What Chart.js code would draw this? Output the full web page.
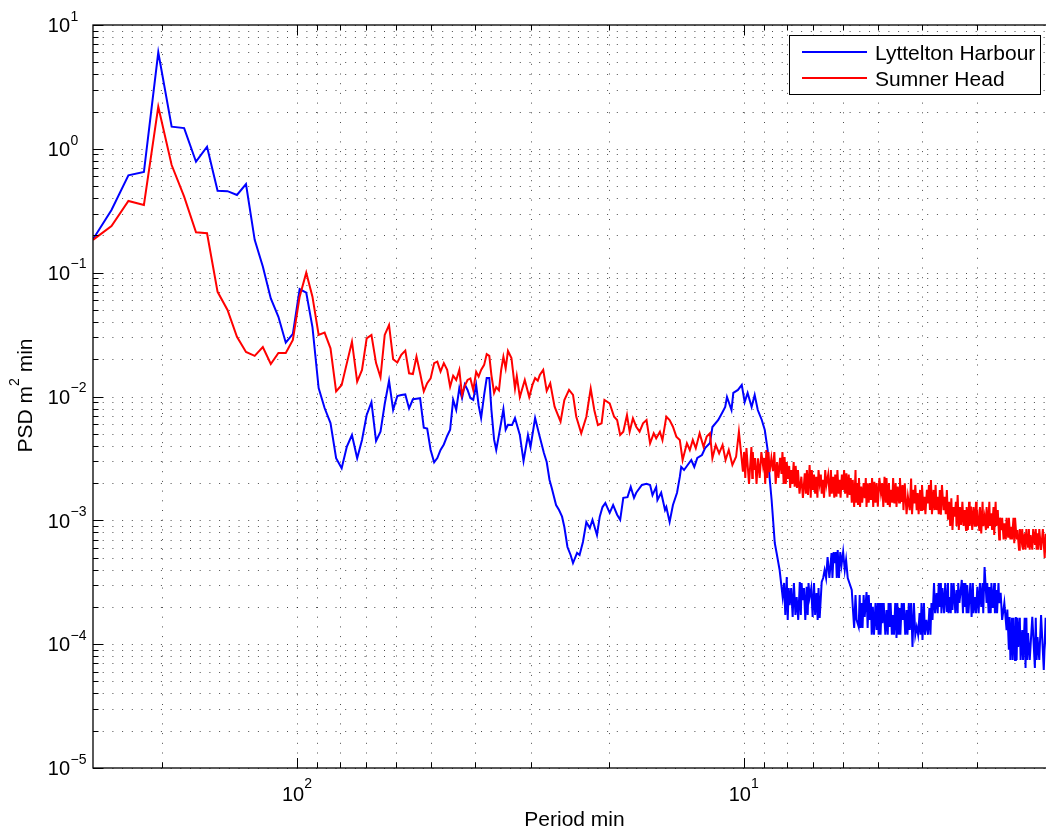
<!DOCTYPE html>
<html>
<head>
<meta charset="utf-8">
<title>PSD Lyttelton Harbour / Sumner Head</title>
<script src="https://cdn.jsdelivr.net/npm/chart.js@4.4.1/dist/chart.umd.min.js"></script>
<style>
  html, body { margin: 0; padding: 0; background: #fff; overflow: hidden; }
  #wrap { width: 1046px; height: 829px; overflow: hidden; }
</style>
</head>
<body>
<div id="wrap"><canvas id="psdChart" width="1066" height="829"></canvas></div>
<script>
// long periods (min), shared by both records
var lowPeriod = [
  286, 260, 238.3, 220, 204.3, 190.7, 178.8, 168.2, 158.9, 150.5,
  143, 136.2, 130, 124.3, 119.2, 114.4, 110, 105.9, 102.1, 98.6,
  95.3, 92.3, 89.4, 86.7, 84.1, 81.7, 79.4, 77.3, 75.3, 73.3,
  71.5, 69.8, 68.1, 66.5, 65, 63.6, 62.2, 60.9, 59.6, 58.4,
  57.2, 56.1, 55, 54, 53, 52, 51.1, 50.2, 49.3, 48.5,
  47.7, 46.9, 46.1, 45.4, 44.7, 44, 43.3, 42.7, 42.1, 41.5,
  40.9, 40.3, 39.7, 39.2, 38.7, 38.1, 37.6, 37.1, 36.7, 36.2,
  35.8, 35.3, 34.9, 34.5, 34.1, 33.7
];

var blueLowPsd = [
  0.186, 0.321, 0.611, 0.650, 6.02, 1.51, 1.47, 0.787, 1.04, 0.459,
  0.455, 0.424, 0.52, 0.184, 0.112, 0.062, 0.044, 0.0272, 0.032, 0.0738,
  0.069, 0.0364, 0.0117, 0.00807, 0.0061, 0.00318, 0.00263, 0.00394, 0.00489, 0.00317,
  0.00446, 0.00709, 0.009, 0.00437, 0.0052, 0.0087, 0.0134, 0.0078, 0.0101, 0.0103,
  0.0104, 0.008, 0.0095, 0.0096, 0.0097, 0.0056, 0.0055, 0.0037, 0.00294, 0.00318,
  0.0037, 0.0041, 0.0048, 0.0054, 0.0094, 0.0078, 0.0117, 0.0097, 0.0125, 0.0113,
  0.0097, 0.0094, 0.0124, 0.0085, 0.0067, 0.0103, 0.0141, 0.0141, 0.0078, 0.0045,
  0.0037, 0.0049, 0.0062, 0.0079, 0.0054, 0.0059
];

var redLowPsd = [
  0.184, 0.238, 0.379, 0.352, 2.19, 0.740, 0.411, 0.212, 0.208, 0.070,
  0.050, 0.0303, 0.0229, 0.0213, 0.0251, 0.0183, 0.0225, 0.0225, 0.0286, 0.064,
  0.10, 0.064, 0.0314, 0.0328, 0.0245, 0.011, 0.0124, 0.0186, 0.0277, 0.0132,
  0.0164, 0.0295, 0.0314, 0.0186, 0.0143, 0.0314, 0.0378, 0.020, 0.0188, 0.0217,
  0.0235, 0.0154, 0.0152, 0.021, 0.0154, 0.011, 0.0128, 0.014, 0.0186, 0.0191,
  0.0159, 0.0186, 0.0164, 0.012, 0.0147, 0.0136, 0.0164, 0.0103, 0.0122, 0.0136,
  0.014, 0.0113, 0.0158, 0.0145, 0.0164, 0.018, 0.022, 0.0213, 0.0149, 0.0107,
  0.0119, 0.0112, 0.0164, 0.0209, 0.0169, 0.0233
];

// Lyttelton Harbour, 33 to 8.3 min
var blueMidPeriod = [
  33.0, 32.5, 31.7, 31.1, 30.4, 30.0, 29.3, 28.6, 28.0, 27.6,
  27.2, 26.9, 26.3, 25.9, 25.5, 25.2, 24.8, 24.4, 24.1, 23.6,
  23.3, 22.9, 22.5, 22.1, 21.8, 21.3, 21.0, 20.7, 20.4, 19.95,
  19.6, 19.2, 18.9, 18.6, 18.2, 17.9, 17.6, 17.4, 16.9, 16.5,
  16.2, 16.0, 15.7, 15.6, 15.3, 15.0, 14.9, 14.65, 14.4, 14.1,
  13.9, 13.8, 13.6, 13.35, 13.1, 12.9, 12.7, 12.4, 12.2, 11.9,
  11.75, 11.4, 11.15, 11.0, 10.9, 10.65, 10.55, 10.3, 10.1, 9.95,
  9.80, 9.60, 9.45, 9.30, 9.11, 8.97, 8.84, 8.75, 8.66, 8.52,
  8.44, 8.31
];
var blueMidPsd = [
  0.00588, 0.0067, 0.00489, 0.00301, 0.00489, 0.00391, 0.0067, 0.00471, 0.0035, 0.00296,
  0.00212, 0.00183, 0.00133, 0.00121, 0.00107, 0.000883, 0.000609, 0.000525, 0.000452, 0.000545,
  0.000525, 0.000668, 0.000969, 0.000867, 0.00101, 0.000761, 0.00107, 0.00128, 0.00138, 0.00115,
  0.00133, 0.00111, 0.00101, 0.00152, 0.00154, 0.00186, 0.00152, 0.00167, 0.00193, 0.00197,
  0.00193, 0.0016, 0.00186, 0.00146, 0.00167, 0.00121, 0.00128, 0.00097, 0.00133, 0.00167,
  0.00224, 0.0027, 0.00255, 0.0028, 0.00307, 0.0027, 0.00319, 0.00337, 0.00384, 0.00421,
  0.00567, 0.00646, 0.0075, 0.00823, 0.0099, 0.00778, 0.0107, 0.0113, 0.0124, 0.00903,
  0.0107, 0.00823, 0.0103, 0.00778, 0.00646, 0.00536, 0.0037, 0.0022, 0.00146, 0.000656,
  0.000545, 0.000397
];

// Lyttelton Harbour, noisy short-period band
var blueNoisePeriod = [
  8.18, 8.12, 8.07, 8.01, 7.97, 7.93, 7.89, 7.83, 7.77, 7.72,
  7.66, 7.61, 7.55, 7.49, 7.45, 7.42, 7.38, 7.33, 7.28, 7.23,
  7.19, 7.16, 7.12, 7.06, 7.01, 6.96, 6.92, 6.87, 6.83, 6.80,
  6.76, 6.69, 6.64, 6.59, 6.54, 6.49, 6.43, 6.36, 6.33, 6.29,
  6.26, 6.22, 6.19, 6.16, 6.12, 6.08, 6.04, 5.99, 5.94, 5.90,
  5.85, 5.73, 5.70, 5.66, 5.62, 5.59, 5.53, 5.50, 5.48, 5.45,
  5.42, 5.39, 5.36, 5.31, 5.28, 5.25, 5.22, 5.19, 5.17, 5.14,
  5.11, 5.07, 5.04, 5.01, 4.99, 4.96, 4.94, 4.91, 4.89, 4.86,
  4.82, 4.79, 4.76, 4.74, 4.71, 4.69, 4.66, 4.64, 4.61, 4.58,
  4.55, 4.53, 4.50, 4.48, 4.46, 4.43, 4.41, 4.38, 4.35, 4.32,
  4.30, 4.27, 4.25, 4.22, 4.19, 4.16, 4.13, 4.10, 4.07, 4.04,
  4.02, 4.00, 3.98, 3.95, 3.93, 3.90, 3.87, 3.84, 3.82, 3.80,
  3.78, 3.75, 3.73, 3.70, 3.68, 3.66, 3.64, 3.62, 3.61, 3.59,
  3.56, 3.54, 3.51, 3.49, 3.48, 3.46, 3.44, 3.43, 3.41, 3.39,
  3.36, 3.34, 3.32, 3.31, 3.29, 3.25, 3.23, 3.22, 3.20, 3.19,
  3.17, 3.16, 3.14, 3.11, 3.09, 3.07, 3.06, 3.04, 3.02, 3.00,
  2.98, 2.96, 2.94, 2.92, 2.91, 2.89, 2.86, 2.85, 2.83, 2.82,
  2.80, 2.79, 2.77, 2.75, 2.74, 2.72, 2.71, 2.69, 2.68, 2.66,
  2.64, 2.61, 2.58, 2.57, 2.55, 2.54, 2.53, 2.51, 2.50, 2.49,
  2.47, 2.46, 2.45, 2.44, 2.43, 2.41, 2.40, 2.38, 2.37, 2.35,
  2.34, 2.33, 2.32, 2.31, 2.29, 2.26, 2.23, 2.22, 2.21, 2.20,
  2.18, 2.16, 2.13, 2.11, 2.09, 2.07, 2.0
];
var blueNoisePsd = [
  0.00024, 0.000312, 0.000172, 0.000349, 0.000157, 0.000284, 0.000207, 0.000284, 0.000166, 0.000312,
  0.000172, 0.00024, 0.000157, 0.000318, 0.000172, 0.000312, 0.000227, 0.000284, 0.000157, 0.00029,
  0.000172, 0.000312, 0.00024, 0.000284, 0.000166, 0.000312, 0.000172, 0.000259, 0.000157, 0.000284,
  0.000163, 0.000318, 0.000342, 0.000397, 0.000342, 0.000505, 0.000342, 0.000545, 0.000342, 0.000555,
  0.000452, 0.000555, 0.000342, 0.000576, 0.000342, 0.000555, 0.000436, 0.000555, 0.000397, 0.00048,
  0.000342, 0.000274, 0.0002, 0.000135, 0.000249, 0.000157, 0.000138, 0.000249, 0.000135, 0.000215,
  0.000135, 0.000249, 0.000166, 0.000264, 0.000135, 0.000249, 0.000157, 0.000215, 0.000119, 0.0002,
  0.000119, 0.000215, 0.00013, 0.000215, 0.000119, 0.000215, 0.000119, 0.000215, 0.000148, 0.000215,
  0.000119, 0.000189, 0.000119, 0.000215, 0.000138, 0.000215, 0.000119, 0.000172, 0.000119, 0.000215,
  0.000112, 0.000215, 0.000119, 0.000196, 0.000119, 0.000215, 0.000157, 0.000215, 0.000119, 0.000189,
  0.000119, 0.000215, 0.00013, 0.000215, 0.0000949, 0.000215, 0.000119, 0.000138, 0.000119, 0.000178,
  0.000119, 0.000215, 0.000108, 0.000215, 0.000119, 0.000157, 0.000119, 0.000196, 0.000119, 0.000215,
  0.000157, 0.000312, 0.000178, 0.000259, 0.000178, 0.000312, 0.0002, 0.000312, 0.000178, 0.000284,
  0.000178, 0.000312, 0.000182, 0.000312, 0.000178, 0.00024, 0.000178, 0.000312, 0.000189, 0.000312,
  0.000178, 0.000274, 0.000178, 0.000312, 0.000215, 0.00033, 0.000178, 0.000312, 0.0002, 0.000312,
  0.000178, 0.0003, 0.000178, 0.000312, 0.000166, 0.000312, 0.000178, 0.00024, 0.000178, 0.00029,
  0.000178, 0.000312, 0.0002, 0.000312, 0.000178, 0.00042, 0.000215, 0.000312, 0.000178, 0.00029,
  0.000178, 0.000312, 0.000196, 0.000312, 0.000178, 0.000274, 0.000178, 0.000312, 0.000215, 0.00026,
  0.000157, 0.000215, 0.00013, 0.00019, 0.00009, 0.000166, 0.0000745, 0.000163, 0.0000745, 0.000163,
  0.0000745, 0.000166, 0.0000745, 0.000163, 0.0000949, 0.000163, 0.0000745, 0.00013, 0.0000745, 0.000163,
  0.0000642, 0.000163, 0.0000745, 0.000123, 0.0000745, 0.000166, 0.0000642, 0.000163, 0.0000745, 0.000114,
  0.0000745, 0.000172, 0.0000619, 0.000163, 0.0000745, 0.000108, 0.0000745
];

// Sumner Head, 33 to 10.3 min
var redMidPeriod = [
  33.1, 32.5, 32.2, 31.7, 30.9, 30.2, 29.7, 29.3, 28.9, 28.6,
  28.1, 27.6, 27.1, 26.5, 25.7, 25.2, 24.6, 24.1, 23.7, 23.1,
  22.5, 22.0, 21.6, 21.2, 20.8, 20.5, 19.95, 19.5, 19.2, 18.9,
  18.6, 18.25, 18.0, 17.7, 17.4, 17.1, 16.8, 16.5, 16.2, 15.9,
  15.7, 15.4, 15.2, 14.9, 14.65, 14.4, 14.15, 13.9, 13.7, 13.4,
  13.2, 13.0, 12.8, 12.55, 12.3, 12.1, 11.9, 11.75, 11.55, 11.35,
  11.15, 10.98, 10.8, 10.6, 10.4, 10.25
];
var redMidPsd = [
  0.0204, 0.0116, 0.0146, 0.0099, 0.0136, 0.0099, 0.0124, 0.0141, 0.0134, 0.0149,
  0.0164, 0.0111, 0.0128, 0.00827, 0.00626, 0.00937, 0.0113, 0.0103, 0.00687, 0.00504,
  0.00687, 0.0116, 0.00778, 0.00588, 0.00608, 0.00937, 0.00881, 0.00687, 0.00646, 0.00489,
  0.0052, 0.00709, 0.0052, 0.00667, 0.0057, 0.0052, 0.00608, 0.00646, 0.00419, 0.00504,
  0.0046, 0.0052, 0.00445, 0.00687, 0.00646, 0.0057, 0.00474, 0.00445, 0.00307, 0.00419,
  0.0037, 0.00445, 0.00382, 0.00504, 0.00393, 0.00474, 0.00504, 0.00317, 0.00406, 0.00348,
  0.00406, 0.00307, 0.0037, 0.0028, 0.00326, 0.0052
];

// Sumner Head, noisy short-period band
var redNoisePeriod = [
  10.04, 9.98, 9.92, 9.86, 9.73, 9.61, 9.57, 9.54, 9.50, 9.43,
  9.36, 9.29, 9.21, 9.13, 9.05, 9.00, 8.95, 8.90, 8.85, 8.80,
  8.75, 8.67, 8.60, 8.54, 8.48, 8.42, 8.36, 8.29, 8.23, 8.19,
  8.14, 8.10, 8.05, 8.01, 7.96, 7.91, 7.87, 7.82, 7.78, 7.73,
  7.69, 7.65, 7.60, 7.56, 7.50, 7.43, 7.37, 7.30, 7.26, 7.22,
  7.18, 7.12, 7.08, 7.04, 7.00, 6.96, 6.92, 6.88, 6.84, 6.80,
  6.76, 6.72, 6.69, 6.65, 6.61, 6.57, 6.53, 6.47, 6.42, 6.38,
  6.35, 6.31, 6.27, 6.24, 6.20, 6.17, 6.13, 6.10, 6.07, 6.03,
  6.00, 5.96, 5.93, 5.89, 5.86, 5.82, 5.79, 5.76, 5.73, 5.70,
  5.66, 5.62, 5.60, 5.57, 5.55, 5.52, 5.49, 5.46, 5.43, 5.39,
  5.36, 5.33, 5.31, 5.28, 5.25, 5.22, 5.19, 5.16, 5.13, 5.10,
  5.07, 5.04, 5.01, 4.97, 4.93, 4.90, 4.87, 4.84, 4.81, 4.79,
  4.76, 4.73, 4.71, 4.68, 4.65, 4.63, 4.60, 4.57, 4.55, 4.52,
  4.49, 4.47, 4.44, 4.41, 4.39, 4.36, 4.32, 4.29, 4.25, 4.22,
  4.20, 4.17, 4.15, 4.13, 4.10, 4.08, 4.06, 4.03, 4.01, 3.99,
  3.96, 3.94, 3.92, 3.89, 3.87, 3.85, 3.83, 3.81, 3.79, 3.76,
  3.74, 3.72, 3.70, 3.68, 3.66, 3.64, 3.62, 3.60, 3.57, 3.55,
  3.53, 3.51, 3.49, 3.47, 3.45, 3.43, 3.41, 3.39, 3.37, 3.35,
  3.34, 3.32, 3.30, 3.28, 3.26, 3.24, 3.22, 3.20, 3.18, 3.17,
  3.15, 3.13, 3.12, 3.10, 3.08, 3.06, 3.04, 3.02, 3.01, 2.99,
  2.97, 2.96, 2.94, 2.92, 2.91, 2.89, 2.87, 2.86, 2.84, 2.82,
  2.81, 2.79, 2.78, 2.76, 2.75, 2.73, 2.72, 2.70, 2.68, 2.67,
  2.65, 2.64, 2.62, 2.61, 2.59, 2.58, 2.56, 2.55, 2.53, 2.52,
  2.51, 2.49, 2.48, 2.47, 2.45, 2.44, 2.42, 2.41, 2.39, 2.38,
  2.37, 2.35, 2.34, 2.33, 2.31, 2.30, 2.29, 2.28, 2.26, 2.25,
  2.23, 2.22, 2.21, 2.20, 2.19, 2.18, 2.16, 2.14, 2.12, 2.11,
  2.10, 2.09, 2.08, 2.06, 2.05, 2.0
];
var redNoisePsd = [
  0.00247, 0.00356, 0.0022, 0.00384, 0.00197, 0.0039, 0.0022, 0.00356, 0.00255, 0.00319,
  0.00197, 0.00317, 0.0022, 0.00356, 0.00275, 0.00319, 0.00197, 0.0037, 0.0022, 0.00356,
  0.00245, 0.00319, 0.0025, 0.00356, 0.00197, 0.00296, 0.0022, 0.00319, 0.00237, 0.00356,
  0.00197, 0.00325, 0.00197, 0.00296, 0.00216, 0.00275, 0.00183, 0.00255, 0.00197, 0.00296,
  0.00187, 0.00275, 0.00183, 0.00255, 0.00164, 0.00225, 0.00152, 0.0024, 0.00164, 0.00255,
  0.0016, 0.0028, 0.00152, 0.00255, 0.00176, 0.00234, 0.00164, 0.00225, 0.00152, 0.00255,
  0.00199, 0.00234, 0.00164, 0.00212, 0.00152, 0.00255, 0.00193, 0.00234, 0.00155, 0.00255,
  0.00164, 0.00225, 0.00152, 0.00234, 0.00155, 0.00255, 0.00164, 0.00212, 0.00152, 0.00234,
  0.00176, 0.00255, 0.00164, 0.0024, 0.00152, 0.00234, 0.0016, 0.0022, 0.00139, 0.00212,
  0.00128, 0.00255, 0.00139, 0.002, 0.00133, 0.0022, 0.00128, 0.00187, 0.00139, 0.002,
  0.00151, 0.0022, 0.00128, 0.00199, 0.00139, 0.002, 0.00146, 0.0022, 0.00128, 0.00205,
  0.00139, 0.002, 0.00129, 0.0022, 0.00166, 0.002, 0.00128, 0.00225, 0.00139, 0.0022,
  0.00133, 0.002, 0.00128, 0.00176, 0.00139, 0.0022, 0.00137, 0.002, 0.00128, 0.00187,
  0.00139, 0.0022, 0.00141, 0.00193, 0.00121, 0.00199, 0.00112, 0.00155, 0.00121, 0.00218,
  0.00112, 0.00176, 0.00137, 0.00193, 0.00121, 0.00166, 0.00112, 0.00176, 0.00121, 0.00193,
  0.00121, 0.00155, 0.00112, 0.00176, 0.00137, 0.00193, 0.00121, 0.00212, 0.00112, 0.00176,
  0.00121, 0.00193, 0.00121, 0.00155, 0.00112, 0.00176, 0.00111, 0.00193, 0.00121, 0.00155,
  0.00112, 0.00176, 0.00101, 0.00141, 0.0009, 0.00151, 0.000835, 0.00128, 0.00107, 0.00141,
  0.0009, 0.0016, 0.000835, 0.00128, 0.000916, 0.00141, 0.0009, 0.00121, 0.000835, 0.00128,
  0.000835, 0.00141, 0.0009, 0.00129, 0.000835, 0.00128, 0.000888, 0.00141, 0.0009, 0.00107,
  0.000835, 0.00128, 0.000785, 0.00141, 0.0009, 0.00107, 0.000835, 0.00128, 0.000862, 0.00141,
  0.0009, 0.00114, 0.000835, 0.00128, 0.000761, 0.00141, 0.0009, 0.00121, 0.0007, 0.00105,
  0.000835, 0.00105, 0.0007, 0.000946, 0.0007, 0.00105, 0.000737, 0.00105, 0.0007, 0.000888,
  0.0007, 0.00105, 0.000652, 0.00105, 0.0007, 0.000835, 0.00058, 0.00085, 0.000693, 0.00085,
  0.00058, 0.000785, 0.00058, 0.00085, 0.000612, 0.00085, 0.00058, 0.000761, 0.00058, 0.00085,
  0.000632, 0.00085, 0.00058, 0.000785, 0.00058, 0.00085, 0.000576, 0.00085, 0.000496, 0.00078,
  0.00055, 0.000735, 0.00055, 0.00075, 0.00053, 0.00063
];

var seriesNames = ['Lyttelton Harbour', 'Sumner Head'];
var xTickExponents = [2, 1];
var yTickExponents = [1, 0, -1, -2, -3, -4, -5];
var xTitle = 'Period min';
var yTitleParts = ['PSD m', '2', ' min'];

var FONT = '"Liberation Sans", Arial, Helvetica, sans-serif';

function toPoints(periods, values) {
  return periods.map(function (p, i) { return { x: p, y: values[i] }; });
}

// 1..9 x 10^n positions inside the axis range (grid and tick marks)
function logSteps(min, max) {
  var out = [];
  for (var e = Math.floor(Math.log10(min)); e <= Math.ceil(Math.log10(max)); e++) {
    for (var m = 1; m <= 9; m++) {
      var v = m * Math.pow(10, e);
      if (v >= min * 0.9999 && v <= max * 1.0001) out.push({ v: v, major: m === 1 });
    }
  }
  return out;
}

function expText(e) { return e < 0 ? '\u2212' + (-e) : String(e); }

var matlabAxes = {
  id: 'matlabAxes',
  beforeDatasetsDraw: function (chart) {
    var ctx = chart.ctx, a = chart.chartArea, xs = chart.scales.x, ys = chart.scales.y;
    ctx.save();
    ctx.strokeStyle = 'rgba(0,0,0,0.7)';
    ctx.lineWidth = 1;
    ctx.setLineDash([1, 8.7]);
    logSteps(xs.min, xs.max).forEach(function (t) {
      var px = Math.round(xs.getPixelForValue(t.v)) + 0.5;
      ctx.beginPath(); ctx.moveTo(px, a.top); ctx.lineTo(px, a.bottom); ctx.stroke();
    });
    logSteps(ys.min, ys.max).forEach(function (t) {
      var py = Math.round(ys.getPixelForValue(t.v)) + 0.5;
      ctx.beginPath(); ctx.moveTo(a.left, py); ctx.lineTo(a.right, py); ctx.stroke();
    });
    ctx.restore();
  },
  afterDatasetsDraw: function (chart) {
    var ctx = chart.ctx, a = chart.chartArea, xs = chart.scales.x, ys = chart.scales.y;
    ctx.save();
    ctx.setLineDash([]);
    ctx.strokeStyle = '#000';
    ctx.lineWidth = 1.3;
    ctx.strokeRect(a.left, a.top, a.right - a.left, a.bottom - a.top);

    // inward tick marks
    ctx.lineWidth = 1;
    logSteps(ys.min, ys.max).forEach(function (t) {
      var py = Math.round(ys.getPixelForValue(t.v)) + 0.5, len = t.major ? 10 : 5.5;
      ctx.beginPath();
      ctx.moveTo(a.left, py); ctx.lineTo(a.left + len, py);
      ctx.moveTo(a.right, py); ctx.lineTo(a.right - len, py);
      ctx.stroke();
    });
    logSteps(xs.min, xs.max).forEach(function (t) {
      var px = Math.round(xs.getPixelForValue(t.v)) + 0.5, len = t.major ? 10 : 5.5;
      ctx.beginPath();
      ctx.moveTo(px, a.bottom); ctx.lineTo(px, a.bottom - len);
      ctx.moveTo(px, a.top); ctx.lineTo(px, a.top + len);
      ctx.stroke();
    });

    // tick labels 10^n
    ctx.fillStyle = '#000';
    ctx.textBaseline = 'alphabetic';
    yTickExponents.forEach(function (e) {
      var py = ys.getPixelForValue(Math.pow(10, e));
      ctx.font = '20px ' + FONT; ctx.textAlign = 'right';
      ctx.fillText('10', a.left - 23, py + 7.2);
      ctx.font = '14px ' + FONT; ctx.textAlign = 'left';
      ctx.fillText(expText(e), a.left - 22.5, py - 4.3);
    });
    xTickExponents.forEach(function (e) {
      var px = xs.getPixelForValue(Math.pow(10, e));
      ctx.font = '20px ' + FONT; var wb = ctx.measureText('10').width;
      ctx.font = '14px ' + FONT; var we = ctx.measureText(expText(e)).width;
      var x0 = px - (wb + we) / 2;
      ctx.textAlign = 'left';
      ctx.font = '20px ' + FONT; ctx.fillText('10', x0, a.bottom + 33);
      ctx.font = '14px ' + FONT; ctx.fillText(expText(e), x0 + wb, a.bottom + 20);
    });

    // axis titles
    ctx.font = '21px ' + FONT; ctx.textAlign = 'center';
    ctx.fillText(xTitle, (a.left + a.right) / 2, a.bottom + 58);

    ctx.save();
    ctx.translate(a.left - 61.5, (a.top + a.bottom) / 2 - 1);
    ctx.rotate(-Math.PI / 2);
    ctx.textAlign = 'left';
    ctx.font = '21px ' + FONT; var w1 = ctx.measureText(yTitleParts[0]).width, w3 = ctx.measureText(yTitleParts[2]).width;
    ctx.font = '14px ' + FONT; var w2 = ctx.measureText(yTitleParts[1]).width;
    var sx = -(w1 + w2 + w3) / 2;
    ctx.font = '21px ' + FONT; ctx.fillText(yTitleParts[0], sx, 0);
    ctx.font = '14px ' + FONT; ctx.fillText(yTitleParts[1], sx + w1, -13);
    ctx.font = '21px ' + FONT; ctx.fillText(yTitleParts[2], sx + w1 + w2, 0);
    ctx.restore();

    // legend box, top right inside the axes
    var lx = a.right - 266.5, ly = a.top + 10.5, lw = 251, lh = 59;
    ctx.fillStyle = '#fff';
    ctx.fillRect(lx, ly, lw, lh);
    ctx.strokeStyle = '#000'; ctx.lineWidth = 1;
    ctx.strokeRect(lx, ly, lw, lh);
    ctx.font = '21px ' + FONT; ctx.textAlign = 'left';
    seriesNames.forEach(function (name, i) {
      var ds = chart.data.datasets[i];
      var y = ly + 16.5 + i * 26;
      ctx.strokeStyle = ds.borderColor; ctx.lineWidth = 2;
      ctx.beginPath(); ctx.moveTo(lx + 12.5, y); ctx.lineTo(lx + 77.5, y); ctx.stroke();
      ctx.fillStyle = '#000';
      ctx.fillText(name, lx + 85.5, y + 8);
    });
    ctx.restore();
  }
};

var ctx = document.getElementById('psdChart').getContext('2d');
var psdChart = new Chart(ctx, {
  type: 'line',
  data: {
    datasets: [{
      label: seriesNames[0],
      data: toPoints(lowPeriod.concat(blueMidPeriod, blueNoisePeriod),
                     blueLowPsd.concat(blueMidPsd, blueNoisePsd)),
      borderColor: '#0000ff',
      borderWidth: 2,
      pointRadius: 0,
      tension: 0,
      fill: false,
      order: 1
    }, {
      label: seriesNames[1],
      data: toPoints(lowPeriod.concat(redMidPeriod, redNoisePeriod),
                     redLowPsd.concat(redMidPsd, redNoisePsd)),
      borderColor: '#ff0000',
      borderWidth: 2,
      pointRadius: 0,
      tension: 0,
      fill: false,
      order: 0
    }]
  },
  options: {
    responsive: false,
    animation: false,
    devicePixelRatio: 1,
    layout: { padding: { left: 93, top: 25, right: 10, bottom: 61 } },
    scales: {
      x: { type: 'logarithmic', reverse: true, min: 2, max: 286, display: false },
      y: { type: 'logarithmic', min: 1e-5, max: 10, display: false }
    },
    plugins: {
      legend: { display: false },
      tooltip: { enabled: false }
    }
  },
  plugins: [matlabAxes]
});
</script>
</body>
</html>
